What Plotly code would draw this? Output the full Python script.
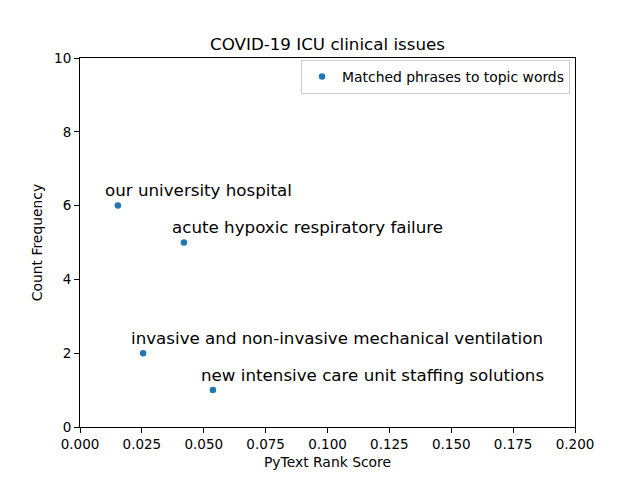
import plotly.graph_objects as go

scores = [0.0153, 0.0420, 0.0255, 0.0537]
counts = [6, 5, 2, 1]
labels = ["our university hospital",
          "acute hypoxic respiratory failure",
          "invasive and non-invasive mechanical ventilation",
          "new intensive care unit staffing solutions"]
x_ticks = [0.0, 0.025, 0.05, 0.075, 0.1, 0.125, 0.15, 0.175, 0.2]
x_ticktext = ["0.000", "0.025", "0.050", "0.075", "0.100", "0.125", "0.150", "0.175", "0.200"]
y_ticks = [0, 2, 4, 6, 8, 10]

FONT = "DejaVu Sans"

fig = go.Figure()
fig.add_trace(go.Scatter(
    x=scores, y=counts, mode="markers",
    marker=dict(color="#1f77b4", size=6.5),
    name="Matched phrases to topic words",
))

for xv, yv, t in zip(scores, counts, labels):
    fig.add_annotation(x=xv - 0.005, y=yv + 0.2, text=t, showarrow=False,
                       xanchor="left", yanchor="bottom", xshift=-2, yshift=-4,
                       font=dict(family=FONT, size=16.7, color="black"))

axis_common = dict(showgrid=False, zeroline=False, showline=True, linecolor="black",
                   linewidth=1, mirror=True, ticks="outside", ticklen=5, tickcolor="black",
                   tickfont=dict(family=FONT, size=13.5, color="black"))

fig.update_layout(
    width=640, height=480,
    margin=dict(l=80, r=65, t=58, b=53),
    plot_bgcolor="white", paper_bgcolor="white",
    title=dict(text="COVID-19 ICU clinical issues", x=(80 + 575) / 2 / 640, xanchor="center",
               y=1 - 44 / 480, yanchor="middle",
               font=dict(family=FONT, size=16.7, color="black")),
    xaxis=dict(range=[0, 0.2], tickvals=x_ticks, ticktext=x_ticktext,
               title=dict(text="PyText Rank Score", font=dict(family=FONT, size=13.9, color="black"), standoff=6),
               **axis_common),
    yaxis=dict(range=[0, 10], tickvals=y_ticks,
               title=dict(text="Count Frequency", font=dict(family=FONT, size=13.9, color="black"), standoff=8),
               **axis_common),
    showlegend=True,
    legend=dict(x=0.99, y=0.995, xanchor="right", yanchor="top",
                bordercolor="#cccccc", borderwidth=1, bgcolor="white",
                font=dict(family=FONT, size=13.9, color="black")),
)

fig.write_html("out.html")
